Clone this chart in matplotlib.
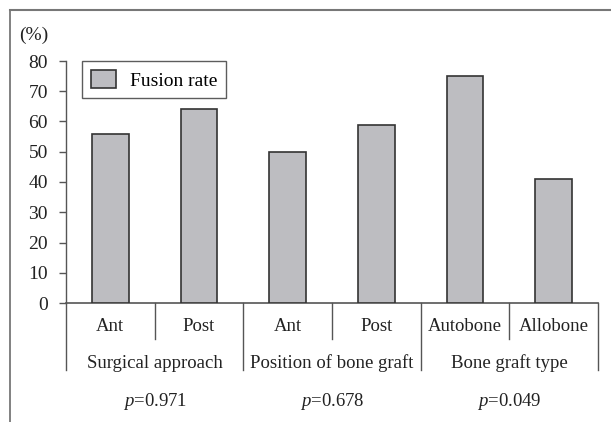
import numpy as np
import matplotlib
matplotlib.use("Agg")
import matplotlib.pyplot as plt
from matplotlib.lines import Line2D

plt.rcParams['font.family'] = 'Liberation Serif'
plt.rcParams['mathtext.fontset'] = 'custom'
plt.rcParams['mathtext.rm'] = 'Liberation Serif'
plt.rcParams['mathtext.it'] = 'Liberation Serif:italic'

sub_labels = ["Ant", "Post", "Ant", "Post", "Autobone", "Allobone"]
fusion_rate = [56, 64, 50, 59, 75, 41]
groups = ["Surgical approach", "Position of bone graft", "Bone graft type"]
p_values = ["0.971", "0.678", "0.049"]
yticks = [0, 10, 20, 30, 40, 50, 60, 70, 80]

fs = 13.5
fig = plt.figure(figsize=(6.11, 4.22), dpi=100)
ax = fig.add_axes([66/611, 1-303/422, (598-66)/611, (303-61)/422])

x = np.arange(len(fusion_rate))
ax.bar(x, fusion_rate, width=0.41, color='#bdbdc1', edgecolor='#333333',
       linewidth=1.2, label='Fusion rate', zorder=3)

ax.set_xlim(-0.5, len(x) - 0.5)
ax.set_ylim(0, 80)
ax.set_yticks(yticks)
ax.set_yticklabels([str(t) for t in yticks], fontsize=14, color='#222222')
ax.set_xticks([])
ax.tick_params(axis='y', direction='out', length=5, width=1, color='#555555', pad=8)
for s in ['top', 'right']:
    ax.spines[s].set_visible(False)
ax.spines['left'].set_color('#555555')
ax.spines['bottom'].set_color('#555555')
ax.spines['left'].set_linewidth(1)
ax.spines['bottom'].set_linewidth(1.2)

trans = ax.get_xaxis_transform()
# sub labels and separators
for i, lab in enumerate(sub_labels):
    ax.text(i, -0.099, lab, transform=trans, ha='center', va='center',
            fontsize=fs, color='#222222')
for i in range(len(groups)):
    mid = 2 * i + 0.5
    ax.add_line(Line2D([mid, mid], [0, -0.149], transform=trans, color='#555555',
                       lw=1, clip_on=False))
    ax.text(mid, -0.248, groups[i], transform=trans, ha='center', va='center',
            fontsize=fs, color='#222222')
    ax.text(mid, -0.409, r'$\it{p}$=' + p_values[i], transform=trans, ha='center',
            va='center', fontsize=fs, color='#222222')
for b in [-0.5, 1.5, 3.5, 5.5]:
    ax.add_line(Line2D([b, b], [0, -0.275], transform=trans, color='#555555',
                       lw=1, clip_on=False))

ax.text(-0.0615, 1.107, '(%)', transform=ax.transAxes, ha='center', va='center',
        fontsize=14, color='#222222')

leg = ax.legend(loc='upper left', bbox_to_anchor=(0.030, 1.0), fontsize=14,
                frameon=True, fancybox=False, edgecolor='#333333',
                handlelength=1.3, handleheight=1.1, borderpad=0.45,
                borderaxespad=0, handletextpad=0.7)
leg.get_frame().set_linewidth(1)

# outer frame
fig.add_artist(Line2D([10/611, 10/611], [0, 1 - 10/422], color='#777777', lw=1.3))
fig.add_artist(Line2D([10/611, 1], [1 - 10/422, 1 - 10/422], color='#777777', lw=1.5))

fig.savefig('out.png', dpi=100)
